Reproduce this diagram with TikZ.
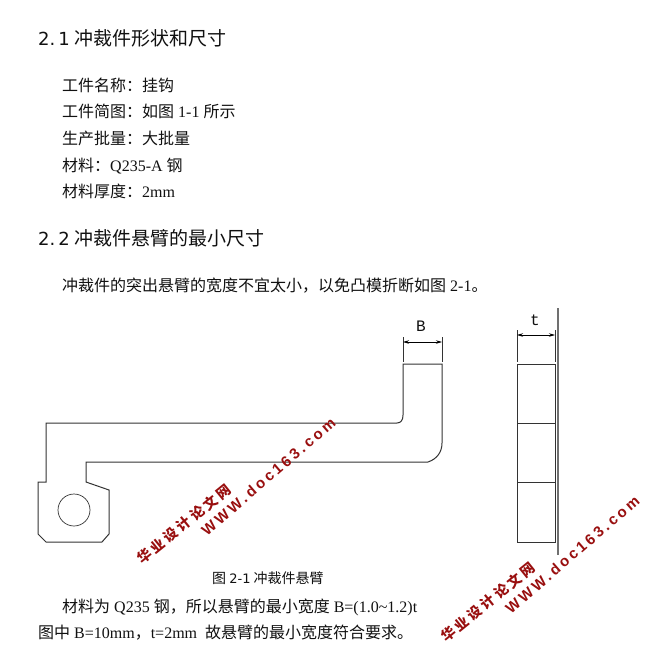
\documentclass[tikz,border=0pt]{standalone}
\usepackage{fontspec}
\usetikzlibrary{arrows.meta}
\setmainfont{Liberation Serif}
\newfontfamily\cjk{Noto Sans CJK SC}
\newfontfamily\wmlat{Liberation Sans}
\newfontfamily\headlat{DejaVu Sans}
\newfontfamily\dimfont{Liberation Mono}
\definecolor{wm}{HTML}{990F0F}
\definecolor{ink}{HTML}{111111}
\definecolor{part}{HTML}{333333}
\tikzset{
  headtxt/.style={anchor=base west,inner sep=0pt,text=ink,font=\cjk\fontsize{19}{19}\selectfont},
  bodytxt/.style={anchor=base west,inner sep=0pt,text=ink,font=\fontsize{16}{16}\selectfont},
  captxt/.style={anchor=base west,inner sep=0pt,text=ink,font=\cjk\fontsize{14}{14}\selectfont},
  dimtxt/.style={inner sep=0pt,text=ink,font=\dimfont\fontsize{16}{16}\selectfont},
  partline/.style={draw=part,line width=1pt,line join=miter},
  thin line/.style={draw=part,line width=0.7pt},
  dimarrow/.style={draw=black,line width=0.7pt,{Stealth[length=6pt,width=3.5pt]}-{Stealth[length=6pt,width=3.5pt]}},
  wmcn/.style={inner sep=0pt,anchor=base west,rotate=39,text=wm,font=\cjk\bfseries\fontsize{14}{14}\selectfont},
  wmen/.style={inner sep=0pt,anchor=base west,rotate=41,text=wm,font=\wmlat\bfseries\fontsize{15}{16}\selectfont}
}
\newcommand{\zh}[1]{{\cjk #1}}
\newcommand{\wmark}[4]{%
  \node[wmcn] (#1) at (#2,#3) {\addfontfeature{LetterSpace=22}华业设计论文网};
  \node[wmen] (#4) at (#2+65,#3-28) {\addfontfeature{LetterSpace=20}WWW.doc163.com};
}
\begin{document}
\begin{tikzpicture}[x=1pt,y=-1pt]
\useasboundingbox (0,0) rectangle (658,664);
\fill[white] (0,0) rectangle (658,664);

% text
\node[headtxt] (h1) at (38,45) {{\headlat\fontsize{18}{18}\selectfont 2.\,1}\ 冲裁件形状和尺寸};
\node[bodytxt] (l1) at (62,91) {\zh{工件名称：挂钩}};
\node[bodytxt] (l2) at (62,117) {\zh{工件简图：如图} 1-1 \zh{所示}};
\node[bodytxt] (l3) at (62,144) {\zh{生产批量：大批量}};
\node[bodytxt] (l4) at (62,171) {\zh{材料：}Q235-A \zh{钢}};
\node[bodytxt] (l5) at (62,197) {\zh{材料厚度：}2mm};
\node[headtxt] (h2) at (38,245) {{\headlat\fontsize{18}{18}\selectfont 2.\,2}\ 冲裁件悬臂的最小尺寸};
\node[bodytxt] (p1) at (62,291) {\zh{冲裁件的突出悬臂的宽度不宜太小，以免凸模折断如图} 2-1\zh{。}};
\node[captxt] (cap) at (212,583) {图 {\headlat\fontsize{13}{13}\selectfont 2-1} 冲裁件悬臂};
\node[bodytxt] (p2) at (62,612) {\zh{材料为} Q235 \zh{钢，所以悬臂的最小宽度} B=(1.0\textasciitilde 1.2)t};
\node[bodytxt] (p3) at (38,638) {\zh{图中} B=10mm\zh{，}t=2mm\ \ \zh{故悬臂的最小宽度符合要求。}};

% hook
\draw[partline] (46,423) -- (46,482) -- (38,482) -- (38,534) -- (46,542) -- (102,542)
  -- (109,534) -- (109,490) -- (86,482) -- (86,462) -- (428,462)
  .. controls (437,459) and (442,452) .. (442,443) -- (442,364) -- (403,364) -- (403,415)
  .. controls (403,420) and (401,423) .. (397,423) -- cycle;
\draw[thin line] (74,510) circle (16);

% side view
\draw[partline] (517,364) rectangle (555,542);
\draw[partline] (517,423) -- (555,423);
\draw[partline] (517,482) -- (555,482);
\draw[draw=part!70,line width=1.2pt] (558,308) -- (558,555);

% dimensions
\coordinate (ba) at (403,342);
\coordinate (bb) at (442,342);
\coordinate (ta) at (517,335);
\coordinate (tb) at (555,335);
\draw[thin line] (403,337) -- (403,362);
\draw[thin line] (442,337) -- (442,362);
\draw[thin line] (517,330) -- (517,362);
\draw[thin line] (555,330) -- (555,362);
\draw[dimarrow] (ba) -- (bb);
\draw[dimarrow] (ta) -- (tb);
\node[dimtxt] (B) at (421,326) {B};
\node[dimtxt] (t) at (535,320) {t};

% watermarks
\wmark{wa}{142}{565}{wb}
\wmark{wc}{446}{643}{wd}
\end{tikzpicture}
\end{document}
